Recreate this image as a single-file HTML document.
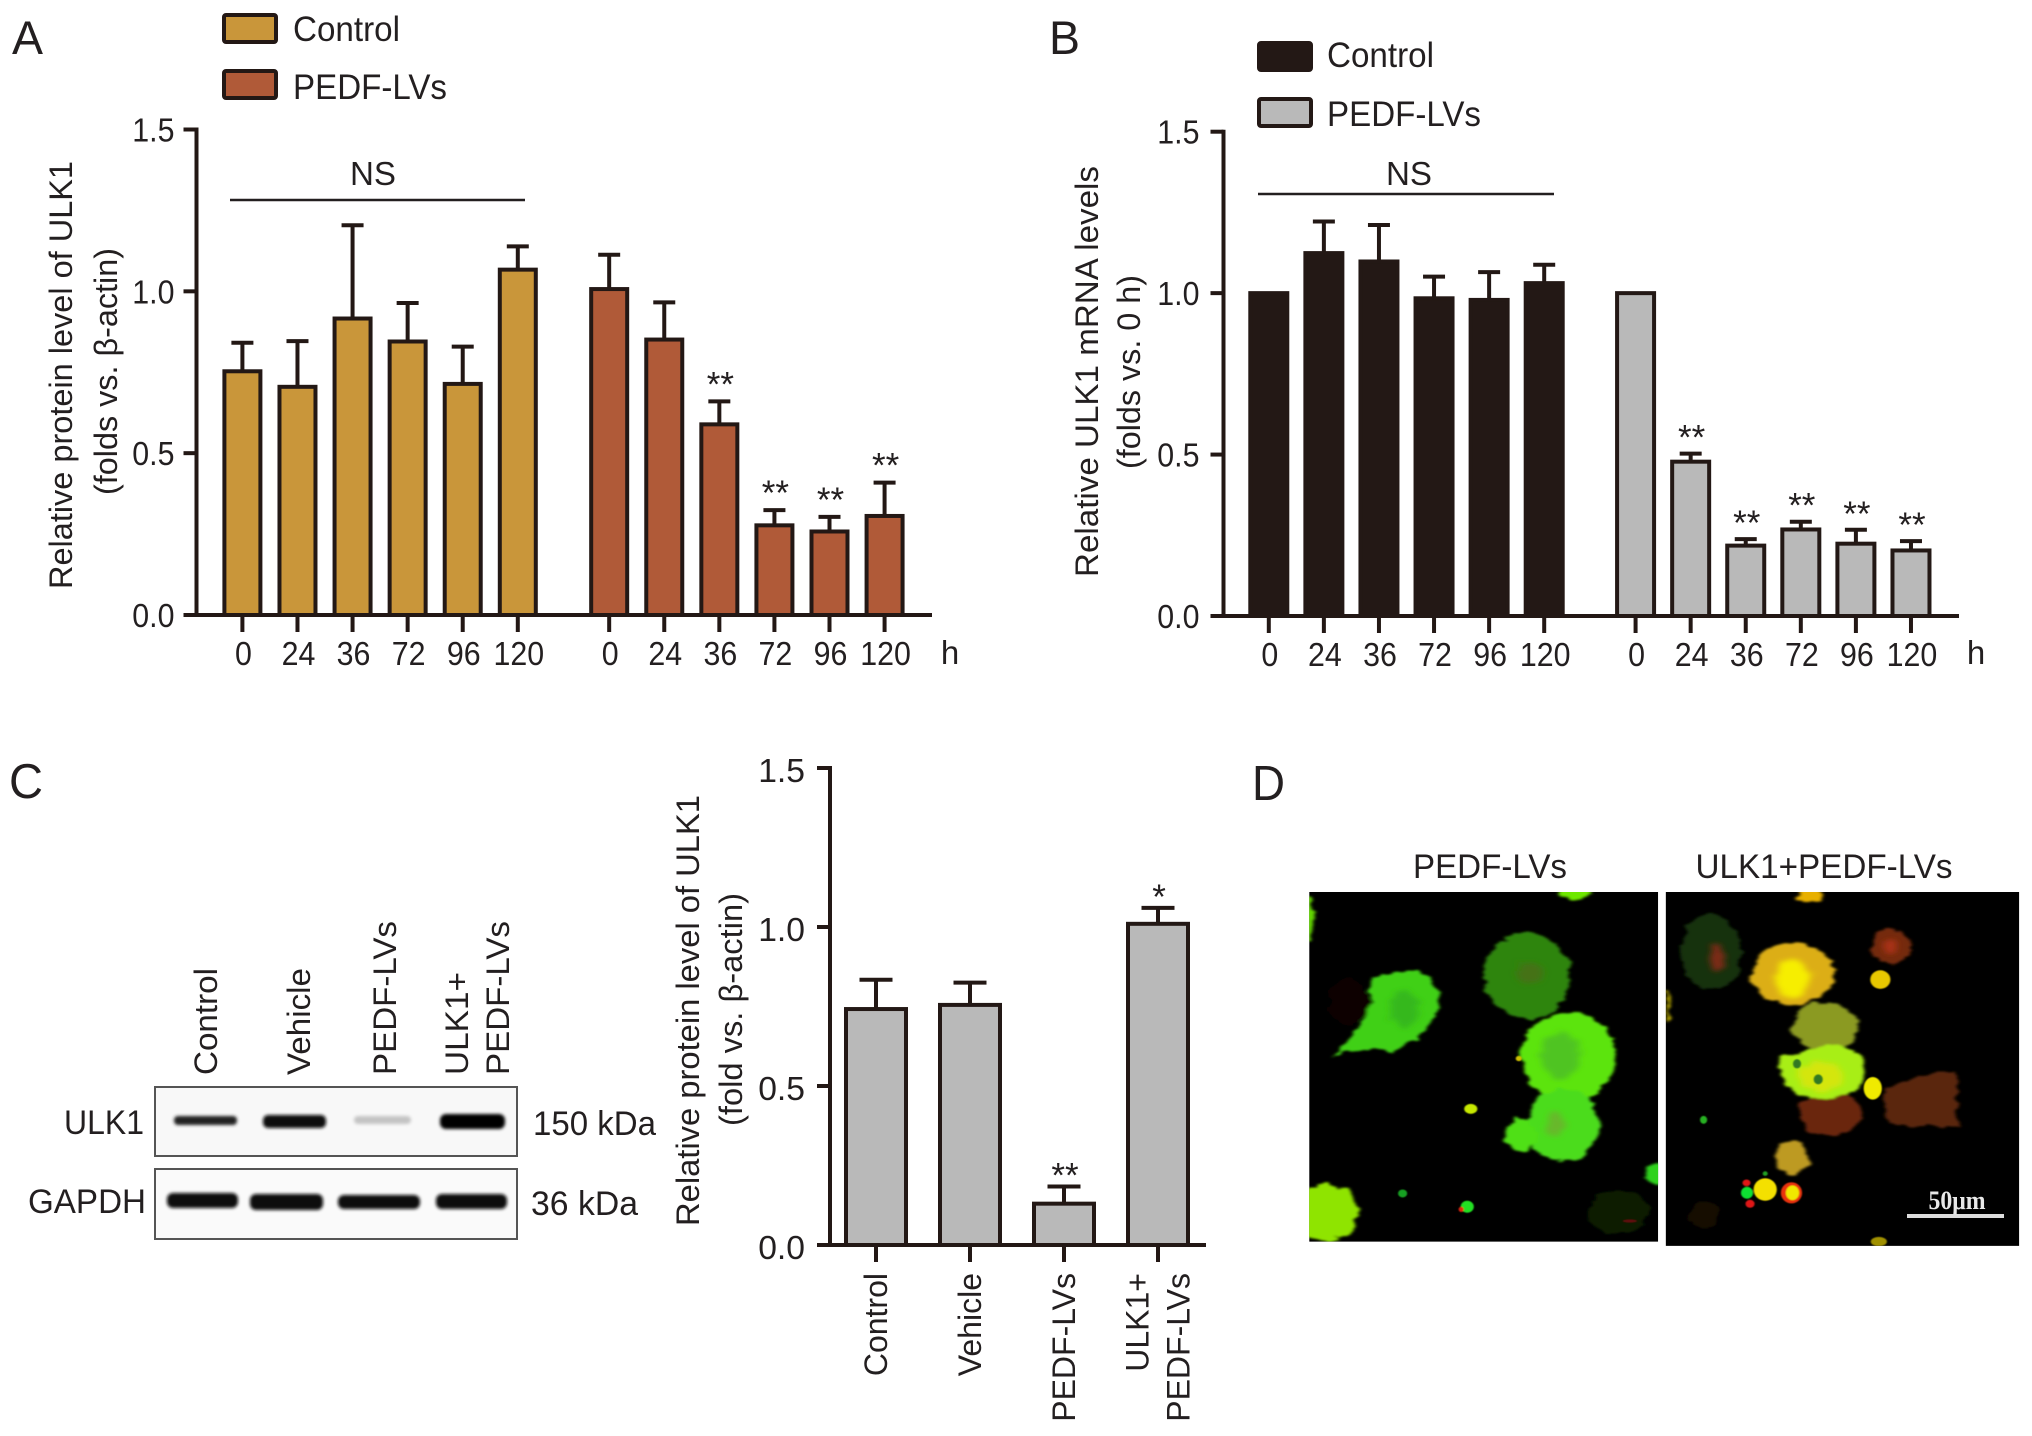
<!DOCTYPE html>
<html lang="en">
<head>
<meta charset="utf-8">
<title>ULK1 expression figure</title>
<style>
html,body{margin:0;padding:0;background:#fff;}
svg{display:block;font-family:"Liberation Sans",Arial,sans-serif;fill:#231f20;}
</style>
</head>
<body>
<svg id="fig" xmlns="http://www.w3.org/2000/svg" width="2032" height="1436" viewBox="0 0 2032 1436">
  <defs>
    <filter id="b1" x="-30%" y="-30%" width="160%" height="160%"><feGaussianBlur stdDeviation="1.6"/></filter>
    <filter id="b2" x="-30%" y="-30%" width="160%" height="160%">
      <feTurbulence type="fractalNoise" baseFrequency="0.035" numOctaves="3" seed="4" result="n"/>
      <feDisplacementMap in="SourceGraphic" in2="n" scale="26" xChannelSelector="R" yChannelSelector="G" result="d"/>
      <feGaussianBlur in="d" stdDeviation="3.5"/>
    </filter>
    <filter id="b4" x="-30%" y="-30%" width="160%" height="160%">
      <feTurbulence type="fractalNoise" baseFrequency="0.06" numOctaves="3" seed="9" result="n"/>
      <feDisplacementMap in="SourceGraphic" in2="n" scale="30" xChannelSelector="R" yChannelSelector="G" result="d"/>
      <feGaussianBlur in="d" stdDeviation="7"/>
    </filter>
    <clipPath id="clipD1"><rect x="137" y="428" width="691" height="1054"/></clipPath>
    <clipPath id="clipD2"><rect x="843" y="428" width="700" height="1067"/></clipPath>
  </defs>

  <rect x="0" y="0" width="2032" height="1436" fill="#fff"/>

  <text x="12" y="54" font-size="47" textLength="31" lengthAdjust="spacingAndGlyphs">A</text>
  <text x="1049" y="54" font-size="47" textLength="31" lengthAdjust="spacingAndGlyphs">B</text>
  <text x="9" y="798" font-size="49" textLength="34" lengthAdjust="spacingAndGlyphs">C</text>
  <text x="1252" y="800" font-size="49" textLength="33" lengthAdjust="spacingAndGlyphs">D</text>

  <g>
    <rect x="224" y="15" width="52" height="27" rx="2" fill="#c9963a" stroke="#231815" stroke-width="4"/>
    <text x="293" y="41" font-size="35" textLength="107" lengthAdjust="spacingAndGlyphs">Control</text>
    <rect x="224" y="71" width="52" height="27" rx="2" fill="#b05a38" stroke="#231815" stroke-width="4"/>
    <text x="293" y="99" font-size="35" textLength="154" lengthAdjust="spacingAndGlyphs">PEDF-LVs</text>
  </g>
  <g>
    <rect x="1259" y="43" width="52" height="27" rx="2" fill="#231815" stroke="#231815" stroke-width="4"/>
    <text x="1327" y="67" font-size="35" textLength="107" lengthAdjust="spacingAndGlyphs">Control</text>
    <rect x="1259" y="99" width="52" height="27" rx="2" fill="#b9b9b9" stroke="#231815" stroke-width="4"/>
    <text x="1327" y="126" font-size="35" textLength="154" lengthAdjust="spacingAndGlyphs">PEDF-LVs</text>
  </g>

  <text transform="translate(72 589) rotate(-90)" font-size="32" textLength="428" lengthAdjust="spacingAndGlyphs">Relative protein level of ULK1</text>
  <text transform="translate(117 495) rotate(-90)" font-size="32" textLength="247" lengthAdjust="spacingAndGlyphs">(folds vs. β-actin)</text>
  <text transform="translate(1098 577) rotate(-90)" font-size="32" textLength="411" lengthAdjust="spacingAndGlyphs">Relative ULK1 mRNA levels</text>
  <text transform="translate(1140 469) rotate(-90)" font-size="32" textLength="194" lengthAdjust="spacingAndGlyphs">(folds vs. 0 h)</text>
  <text transform="translate(699 1226) rotate(-90)" font-size="32" textLength="431" lengthAdjust="spacingAndGlyphs">Relative protein level of ULK1</text>
  <text transform="translate(742 1126) rotate(-90)" font-size="32" textLength="233" lengthAdjust="spacingAndGlyphs">(fold vs. β-actin)</text>

  <g>
    <text x="373" y="185" font-size="33" text-anchor="middle" textLength="46" lengthAdjust="spacingAndGlyphs">NS</text>
    <line x1="230" x2="525" y1="200" y2="200" stroke="#231f20" stroke-width="2.5"/>
  </g>
  <g>
    <text x="1409" y="185" font-size="33" text-anchor="middle" textLength="46" lengthAdjust="spacingAndGlyphs">NS</text>
    <line x1="1258" x2="1554" y1="194" y2="194" stroke="#231f20" stroke-width="2.5"/>
  </g>
  <text x="950" y="664" font-size="33" text-anchor="middle">h</text>
  <text x="1976" y="664" font-size="33" text-anchor="middle">h</text>

  <g id="chartA"></g>
  <g id="chartB"></g>
  <g id="chartC"></g>

  <g>
    <text transform="translate(217 1075) rotate(-90)" font-size="32" textLength="107" lengthAdjust="spacingAndGlyphs">Control</text>
    <text transform="translate(310 1075) rotate(-90)" font-size="32" textLength="107" lengthAdjust="spacingAndGlyphs">Vehicle</text>
    <text transform="translate(396 1075) rotate(-90)" font-size="32" textLength="154" lengthAdjust="spacingAndGlyphs">PEDF-LVs</text>
    <text transform="translate(468 1075) rotate(-90)" font-size="32" textLength="103" lengthAdjust="spacingAndGlyphs">ULK1+</text>
    <text transform="translate(509 1075) rotate(-90)" font-size="32" textLength="154" lengthAdjust="spacingAndGlyphs">PEDF-LVs</text>

    <rect x="155" y="1087" width="362" height="69" fill="#f8f8f8" stroke="#555" stroke-width="2"/>
    <rect x="155" y="1169" width="362" height="70" fill="#fafafa" stroke="#555" stroke-width="2"/>
    <g filter="url(#b1)" fill="#111">
      <rect x="174" y="1116" width="63" height="9" rx="4" fill="#222"/>
      <rect x="263" y="1115" width="63" height="13" rx="5"/>
      <rect x="354" y="1116" width="57" height="8" rx="4" fill="#c4c4c4"/>
      <rect x="440" y="1114" width="65" height="15" rx="6" fill="#000"/>
      <rect x="167" y="1193" width="71" height="15" rx="6"/>
      <rect x="250" y="1194" width="73" height="16" rx="6"/>
      <rect x="338" y="1195" width="82" height="14" rx="6"/>
      <rect x="436" y="1194" width="71" height="15" rx="6"/>
    </g>
    <text x="144" y="1134" font-size="34" text-anchor="end" textLength="80" lengthAdjust="spacingAndGlyphs">ULK1</text>
    <text x="146" y="1213" font-size="34" text-anchor="end" textLength="118" lengthAdjust="spacingAndGlyphs">GAPDH</text>
    <text x="533" y="1135" font-size="34" textLength="123" lengthAdjust="spacingAndGlyphs">150 kDa</text>
    <text x="531" y="1215" font-size="34" textLength="107" lengthAdjust="spacingAndGlyphs">36 kDa</text>
  </g>

  <g>
    <text x="1490" y="878" font-size="34" text-anchor="middle" textLength="154" lengthAdjust="spacingAndGlyphs">PEDF-LVs</text>
    <text x="1824" y="878" font-size="34" text-anchor="middle" textLength="257" lengthAdjust="spacingAndGlyphs">ULK1+PEDF-LVs</text>

    <g transform="translate(1240 750) scale(0.505 0.3317)">
      <g clip-path="url(#clipD1)">
        <rect x="137" y="428" width="691" height="1060" fill="#000"/>
        <g filter="url(#b2)">
          <path d="M262 690 Q320 640 372 680 Q405 735 385 810 Q350 880 295 912 Q250 885 182 925 Q235 860 255 780 Z" fill="#40d018"/>
          <ellipse cx="568" cy="680" rx="86" ry="130" fill="#2f8510"/>
          <ellipse cx="650" cy="925" rx="94" ry="135" fill="#5ce410"/>
          <ellipse cx="640" cy="1130" rx="72" ry="108" fill="#4cdc1a"/>
          <ellipse cx="555" cy="1160" rx="33" ry="50" fill="#50e014"/>
          <ellipse cx="170" cy="1395" rx="62" ry="86" fill="#8fe400"/>
          <ellipse cx="665" cy="430" rx="32" ry="20" fill="#6ee800"/>
          <ellipse cx="136" cy="510" rx="10" ry="70" fill="#63d800"/>
          <ellipse cx="824" cy="1275" rx="22" ry="34" fill="#2ed21a"/>
          <ellipse cx="750" cy="1390" rx="60" ry="68" fill="#081a05"/>
          <ellipse cx="215" cy="760" rx="40" ry="70" fill="#0e0301"/>
        </g>
        <g filter="url(#b4)">
          <ellipse cx="325" cy="780" rx="28" ry="55" fill="#36b81c"/>
          <ellipse cx="575" cy="670" rx="25" ry="35" fill="#447214"/>
          <ellipse cx="635" cy="920" rx="40" ry="70" fill="#4fc420"/>
          <ellipse cx="625" cy="1125" rx="20" ry="35" fill="#68b82c"/>
        </g>
        <g filter="url(#b1)">
          <ellipse cx="457" cy="1082" rx="13" ry="15" fill="#c6e800"/>
          <ellipse cx="450" cy="1377" rx="13" ry="18" fill="#20e020"/>
          <ellipse cx="438" cy="1385" rx="5" ry="8" fill="#e02010"/>
          <ellipse cx="322" cy="1337" rx="9" ry="12" fill="#18a020"/>
          <ellipse cx="552" cy="930" rx="6" ry="8" fill="#d0c000"/>
          <ellipse cx="772" cy="1420" rx="14" ry="5" fill="#601008"/>
        </g>
      </g>

      <g clip-path="url(#clipD2)">
        <rect x="843" y="428" width="700" height="1070" fill="#000"/>
        <g filter="url(#b2)">
          <ellipse cx="932" cy="610" rx="60" ry="112" fill="#16300e"/>
          <ellipse cx="1095" cy="675" rx="82" ry="94" fill="#dcae18"/>
          <ellipse cx="1130" cy="438" rx="26" ry="22" fill="#e8b000"/>
          <ellipse cx="1288" cy="592" rx="36" ry="56" fill="#742a10"/>
          <ellipse cx="1158" cy="835" rx="66" ry="72" fill="#8b9a22"/>
          <ellipse cx="1170" cy="1095" rx="62" ry="68" fill="#6a280f"/>
          <path d="M1150 895 Q1225 870 1240 960 Q1245 1025 1190 1045 Q1120 1060 1090 1020 Q1060 970 1075 925 Z" fill="#a8ee12"/>
          <path d="M1280 1020 Q1345 975 1415 970 Q1430 1040 1412 1100 L1428 1138 Q1350 1140 1285 1125 Q1265 1070 1280 1020 Z" fill="#5a260e"/>
          <ellipse cx="1093" cy="1230" rx="31" ry="52" fill="#bd9a20"/>
          <ellipse cx="845" cy="770" rx="4" ry="50" fill="#d0c000"/>
          <ellipse cx="920" cy="1400" rx="30" ry="45" fill="#140903"/>
        </g>
        <g filter="url(#b4)">
          <ellipse cx="1095" cy="690" rx="34" ry="58" fill="#f6ee00"/>
          <ellipse cx="1288" cy="592" rx="13" ry="24" fill="#a83018"/>
          <ellipse cx="945" cy="625" rx="14" ry="40" fill="#7c2c16"/>
          <ellipse cx="1150" cy="985" rx="45" ry="45" fill="#d4e610"/>
        </g>
        <g filter="url(#b1)">
          <ellipse cx="1268" cy="692" rx="20" ry="28" fill="#e8c800"/>
          <ellipse cx="1253" cy="1020" rx="18" ry="34" fill="#f0ea00"/>
          <ellipse cx="1103" cy="946" rx="8" ry="14" fill="#307820"/>
          <ellipse cx="1145" cy="993" rx="9" ry="15" fill="#307820"/>
          <ellipse cx="1040" cy="1325" rx="23" ry="34" fill="#f4e000"/>
          <ellipse cx="1092" cy="1335" rx="21" ry="32" fill="#e83010"/>
          <ellipse cx="1094" cy="1335" rx="13" ry="22" fill="#f0e800"/>
          <ellipse cx="1004" cy="1335" rx="12" ry="18" fill="#10e030"/>
          <ellipse cx="1003" cy="1305" rx="8" ry="10" fill="#e01818"/>
          <ellipse cx="1010" cy="1368" rx="9" ry="12" fill="#e01818"/>
          <ellipse cx="918" cy="1115" rx="7" ry="12" fill="#28b020"/>
          <ellipse cx="1040" cy="1277" rx="5" ry="7" fill="#20a020"/>
          <ellipse cx="1265" cy="1482" rx="16" ry="14" fill="#a09000"/>
        </g>
      </g>
    </g>
    <rect x="1907" y="1214" width="97" height="4" fill="#ddd"/>
    <text x="1957" y="1209" font-family="Liberation Serif, serif" font-weight="bold" font-size="26" fill="#e8e8e8" text-anchor="middle" textLength="57" lengthAdjust="spacingAndGlyphs">50μm</text>
  </g>
</svg>

<script>
const SVG_NS = 'http://www.w3.org/2000/svg';

const yTickValues = [0, 0.5, 1.0, 1.5];

const hourLabels = ['0', '24', '36', '72', '96', '120', '0', '24', '36', '72', '96', '120'];

const panelAMeans = [0.753, 0.705, 0.916, 0.845, 0.714, 1.067, 1.007, 0.851, 0.589, 0.277, 0.258, 0.306];
const panelAErrors = [0.088, 0.141, 0.288, 0.119, 0.115, 0.072, 0.106, 0.115, 0.071, 0.047, 0.045, 0.103];
const panelAStars = ['', '', '', '', '', '', '', '', '**', '**', '**', '**'];

const panelBMeans = [1.0, 1.124, 1.098, 0.984, 0.979, 1.031, 1.0, 0.478, 0.218, 0.268, 0.224, 0.203];
const panelBErrors = [0, 0.098, 0.113, 0.067, 0.086, 0.057, 0, 0.025, 0.020, 0.024, 0.043, 0.029];
const panelBStars = ['', '', '', '', '', '', '', '**', '**', '**', '**', '**'];

const panelCCategories = [['Control'], ['Vehicle'], ['PEDF-LVs'], ['ULK1+', 'PEDF-LVs']];
const panelCMeans = [0.742, 0.755, 0.130, 1.010];
const panelCErrors = [0.092, 0.070, 0.054, 0.050];
const panelCStars = ['', '', '**', '*'];

function make(parent, tag, attrs, text) {
  const el = document.createElementNS(SVG_NS, tag);
  for (const k in attrs) el.setAttribute(k, attrs[k]);
  if (text !== undefined) el.textContent = text;
  parent.appendChild(el);
  return el;
}

function drawChart(cfg) {
  const root = document.getElementById(cfg.id);
  const ink = '#231815';
  const y = v => cfg.y0 - (v / 1.5) * (cfg.y0 - cfg.y15);

  cfg.means.forEach((m, i) => {
    const cx = cfg.x(i);
    const err = cfg.errors[i];
    if (err > 0) {
      const stem = make(root, 'line', { x1: cx, x2: cx, y1: y(m), y2: y(m + err), stroke: ink, 'stroke-width': 4 });
      
      
      const cap = make(root, 'line', { x1: cx - cfg.capHalf, x2: cx + cfg.capHalf, y1: y(m + err), y2: y(m + err), stroke: ink, 'stroke-width': 4 });
      
      
    }
    const bar = make(root, 'rect', {
      x: cx - cfg.barWidth / 2, y: y(m), width: cfg.barWidth, height: cfg.y0 - y(m),
      fill: cfg.fill(i), stroke: ink, 'stroke-width': 4
    });
    
    

    if (cfg.stars[i]) {
      const star = make(root, 'text', {
        x: cx + 1, y: y(m + err) + cfg.starShift, 'font-size': 35, 'text-anchor': 'middle'
      }, cfg.stars[i]);
      
      
    }

    const tick = make(root, 'line', { x1: cx, x2: cx, y1: cfg.y0, y2: cfg.y0 + 17, stroke: ink, 'stroke-width': 4 });
    
    

    if (cfg.labels) {
      const label = make(root, 'text', {
        transform: 'translate(' + (cx + 1) + ' ' + (cfg.y0 + 50) + ') scale(0.92 1)',
        'font-size': 33, 'text-anchor': 'middle'
      }, cfg.labels[i]);
      
      
    }
    if (cfg.rotatedLabels) {
      const lines = cfg.rotatedLabels[i];
      lines.forEach((line, j) => {
        const lx = cx + (j - (lines.length - 1) / 2) * 41 + 11;
        const label = make(root, 'text', {
          transform: 'translate(' + lx + ' ' + (cfg.y0 + 28) + ') rotate(-90)',
          'font-size': 32, 'text-anchor': 'end'
        }, line);
        
        
      });
    }
  });

  const yAxis = make(root, 'line', { x1: cfg.axisX, x2: cfg.axisX, y1: cfg.y15 - 2, y2: cfg.y0 + 2, stroke: ink, 'stroke-width': 4 });
  
  

  const xAxis = make(root, 'line', { x1: cfg.axisX - 12, x2: cfg.xEnd, y1: cfg.y0, y2: cfg.y0, stroke: ink, 'stroke-width': 4 });
  
  

  yTickValues.forEach(v => {
    const tick = make(root, 'line', { x1: cfg.axisX - 13, x2: cfg.axisX, y1: y(v), y2: y(v), stroke: ink, 'stroke-width': 4 });
    
    
    const label = make(root, 'text', {
      transform: 'translate(' + (cfg.axisX - cfg.yLabelGap) + ' ' + (y(v) + cfg.yLabelDrop) + ') scale(' + cfg.squash + ' 1)',
      'font-size': 33, 'text-anchor': 'end'
    }, v.toFixed(1));
    
    
  });
}

drawChart({
  id: 'chartA', axisX: 196.5, xEnd: 932, y0: 615, y15: 129.5,
  barWidth: 36, capHalf: 11, starShift: -5, squash: 0.92, yLabelGap: 22, yLabelDrop: 12,
  x: i => 242.4 + i * 55.08 + (i >= 6 ? 36.3 : 0),
  fill: i => (i < 6 ? '#c9963a' : '#b05a38'),
  means: panelAMeans, errors: panelAErrors, stars: panelAStars, labels: hourLabels
});

drawChart({
  id: 'chartB', axisX: 1223.5, xEnd: 1959, y0: 616, y15: 131.7,
  barWidth: 37, capHalf: 11, starShift: -4, squash: 0.92, yLabelGap: 24, yLabelDrop: 12,
  x: i => 1268.8 + i * 55.08 + (i >= 6 ? 36.3 : 0),
  fill: i => (i < 6 ? '#231815' : '#b9b9b9'),
  means: panelBMeans, errors: panelBErrors, stars: panelBStars, labels: hourLabels
});

drawChart({
  id: 'chartC', axisX: 830, xEnd: 1206, y0: 1245, y15: 768,
  barWidth: 60, capHalf: 16.5, starShift: 1, squash: 1.02, yLabelGap: 25, yLabelDrop: 14,
  x: i => 876 + i * 94,
  fill: () => '#b9b9b9',
  means: panelCMeans, errors: panelCErrors, stars: panelCStars, rotatedLabels: panelCCategories
});
</script>
</body>
</html>
